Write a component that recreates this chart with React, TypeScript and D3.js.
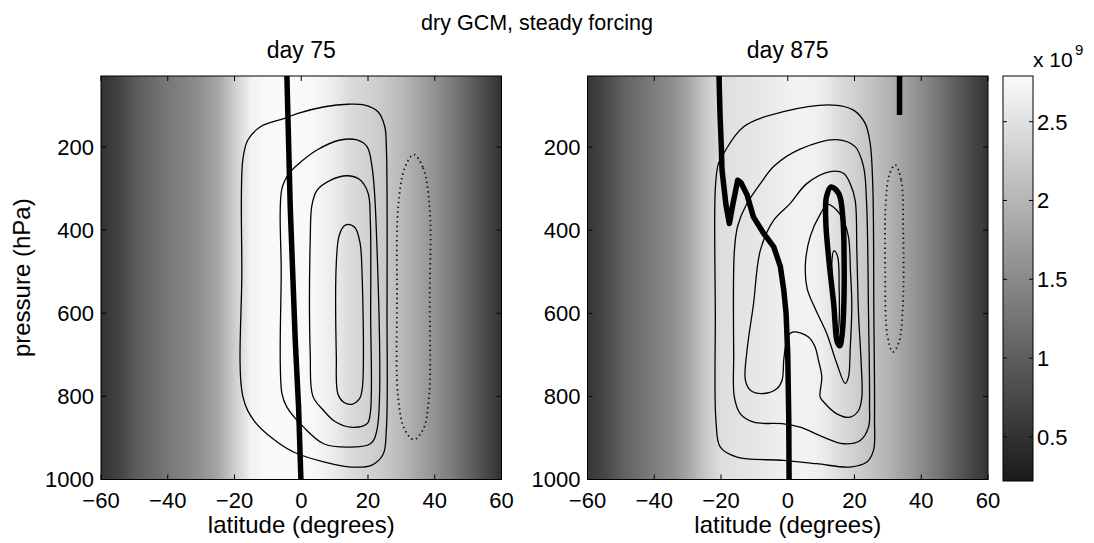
import React from "react";
import * as d3 from "d3";

// ---------- data ----------
const LATS = [-60, -55, -50, -45, -40, -35, -30, -25, -20, -15, -10, -5, 0, 5, 10, 15, 20, 25, 30, 35, 40, 45, 50, 55, 60];
// background field (x 10^9) along latitude
const M_DAY75 = [0.50, 0.67, 0.95, 1.13, 1.30, 1.41, 1.59, 1.82, 2.27, 2.70, 2.85, 2.85, 2.79, 2.73, 2.62, 2.42, 2.33, 2.22, 2.04, 1.82, 1.59, 1.36, 1.07, 0.78, 0.50];
const M_DAY875 = [0.55, 0.73, 1.01, 1.18, 1.36, 1.53, 1.82, 2.19, 2.47, 2.52, 2.56, 2.62, 2.68, 2.71, 2.65, 2.47, 2.31, 2.16, 1.99, 1.76, 1.53, 1.28, 1.01, 0.75, 0.52];

type Pt = [number, number]; // [latitude, pressure]

const D75_CONTOURS: Pt[][] = [
  [[-5, 131], [-1, 119], [7, 103], [14, 97], [19, 99], [23, 115], [25, 150], [25.5, 200], [25.7, 600], [25.5, 880], [24.5, 940], [21, 966], [15, 970], [7, 958], [-2, 935], [-8, 905], [-14, 860], [-17.5, 800], [-17.8, 500], [-17.5, 230], [-16, 183], [-12, 150]],
  [[-5.8, 300], [-3.5, 262], [0, 235], [4.7, 207], [11.7, 183], [16.7, 183], [19.7, 199], [21.2, 247], [22.5, 400], [22.7, 880], [20.7, 914], [13.7, 922], [6.7, 914], [0.7, 874], [-4.3, 826], [-5.8, 793], [-6, 500]],
  [[2.7, 420], [3.2, 340], [4.7, 304], [8.7, 280], [13.7, 269], [17.5, 278], [20, 310], [20.7, 380], [20.8, 600], [20.7, 840], [19.7, 866], [14.7, 874], [10, 860], [6.7, 834], [3.5, 800], [2.7, 700]],
  [[10.5, 480], [11.3, 415], [12.8, 390], [14.2, 386], [16.2, 395], [17.6, 430], [18.2, 500], [18.3, 780], [17.5, 805], [15.2, 819], [12.7, 814], [11, 795], [10.5, 700]],
];
const D75_DOTTED: Pt[] = [[33.7, 218], [36.5, 250], [38.5, 350], [38.5, 560], [38.3, 800], [36.5, 880], [33.7, 904], [31, 880], [29, 800], [28.7, 560], [29, 350], [31, 250]];
const D75_THICK_OPEN: Pt[][] = [
  [[-4.3, 29], [-3.3, 344], [-1.8, 665], [-0.8, 826], [-0.1, 1000]],
];
const D75_THICK_CLOSED: Pt[][] = [];

const D875_CONTOURS: Pt[][] = [
  [[-21.7, 300], [-20.8, 240], [-19.2, 215], [-13.2, 151], [-1.3, 115], [13.7, 99], [19.7, 111], [23.2, 143], [24.7, 191], [25.5, 300], [25.8, 600], [26, 850], [25.7, 930], [23.7, 958], [18.7, 970], [8.7, 962], [-1.2, 954], [-15.2, 946], [-20.2, 922], [-21.5, 860], [-21.7, 600]],
  [[-16.2, 700], [-16, 450], [-15, 390], [-12.5, 340], [-8.2, 288], [-4, 245], [3.7, 205], [14.7, 182], [20.2, 199], [22.7, 247], [23.6, 330], [24.2, 600], [24.5, 820], [24.2, 874], [21.7, 906], [16.7, 914], [10.7, 898], [3.7, 874], [-1.2, 866], [-10.2, 862], [-14.2, 842], [-16, 802]],
  [[-10.3, 580], [-8.2, 448], [-4.2, 376], [0.7, 336], [5.7, 288], [12.7, 259], [16.7, 263], [18.7, 288], [20.2, 328], [20.7, 450], [21.2, 600], [22, 720], [22.2, 802], [21.2, 834], [18.7, 850], [14.7, 842], [10.7, 813], [9.7, 801], [10.2, 753], [9.2, 713], [8.2, 681], [6.2, 657], [1.7, 645], [0, 655], [-0.7, 681], [-1.2, 713], [-1.7, 761], [-3.2, 781], [-7.2, 793], [-11.2, 785], [-12.7, 761], [-12.2, 689]],
  [[9.7, 362], [12, 338], [14.7, 352], [16.7, 376], [18.2, 416], [18.8, 500], [19.2, 580], [18.7, 689], [18.2, 753], [17.2, 769], [14.7, 721], [11.7, 649], [8, 585], [5.8, 540], [5.3, 480], [6.7, 416]],
  [[13.8, 450], [14.9, 462], [15.4, 540], [15.4, 620], [15, 650], [14.5, 620], [13.6, 540], [13.2, 480]],
];
const D875_DOTTED: Pt[] = [[32.2, 243], [34, 280], [34.6, 400], [34.5, 580], [33.3, 670], [31.5, 693], [29.8, 650], [29.2, 500], [29.4, 330], [30.5, 265]];
const D875_THICK_OPEN: Pt[][] = [
  [[-20.6, 29], [-20.3, 120], [-19.9, 200], [-19.7, 255], [-18.5, 340], [-17.5, 384], [-16.5, 340], [-15, 280], [-14, 286], [-12.2, 315], [-10.3, 368], [-7.2, 408], [-4.2, 440], [-2.2, 488], [-1.2, 544], [-0.5, 600], [0, 700], [0.3, 850], [0.4, 1000]],
  [[33.5, 29], [33.5, 123]],
];
const D875_THICK_CLOSED: Pt[][] = [
  [[13, 296], [15.3, 312], [16.5, 370], [16.9, 480], [16.8, 580], [16.3, 650], [15.6, 678], [14.8, 668], [13.8, 580], [12.3, 470], [11.4, 380], [11.6, 320]],
];

const X_TICKS = [-60, -40, -20, 0, 20, 40, 60];
const Y_TICKS = [200, 400, 600, 800, 1000];
const CB_TICKS = [0.5, 1, 1.5, 2, 2.5];
const CB_DOMAIN = [0.22, 2.79];
const P_DOMAIN = [29, 1000];

const TITLE = "dry GCM, steady forcing";
const PANEL_TITLES = ["day 75", "day 875"];
const X_LABEL = "latitude (degrees)";
const Y_LABEL = "pressure (hPa)";

// ---------- layout ----------
const W = 1094;
const H = 543;
const TOP = 76;
const BOTTOM = 479.5;
const PW = 400.5;
const PANEL_X = [101, 587.5];
const CB = { x: 1003, w: 30, top: 76, bottom: 481 };
const FONT = "'Liberation Sans', Arial, Helvetica, sans-serif";

const color = d3.scaleLinear<string>().domain(CB_DOMAIN).range(["#1a1a1a", "#fafafa"]).clamp(true);

const fmt = (v: number) => (v < 0 ? "\u2212" + Math.abs(v) : String(v));

interface PanelProps {
  idx: number;
  bg: number[];
  contours: Pt[][];
  dotted: Pt[];
  thickOpen: Pt[][];
  thickClosed: Pt[][];
  showYLabel: boolean;
}

function Panel({ idx, bg, contours, dotted, thickOpen, thickClosed, showYLabel }: PanelProps) {
  const x0 = PANEL_X[idx];
  const x = d3.scaleLinear().domain([-60, 60]).range([x0, x0 + PW]);
  const y = d3.scaleLinear().domain(P_DOMAIN).range([TOP, BOTTOM]);
  const closed = d3.line<Pt>().x((d) => x(d[0])).y((d) => y(d[1])).curve(d3.curveCatmullRomClosed.alpha(0.5));
  const open = d3.line<Pt>().x((d) => x(d[0])).y((d) => y(d[1])).curve(d3.curveLinear);
  const gid = `bg${idx}`;
  const cid = `clip${idx}`;
  const tick = 5;
  return (
    <g>
      <defs>
        <linearGradient id={gid} x1="0" x2="1" y1="0" y2="0">
          {LATS.map((lat, i) => (
            <stop key={i} offset={(x(lat) - x0) / PW} stopColor={color(bg[i])} />
          ))}
        </linearGradient>
        <clipPath id={cid}>
          <rect x={x0} y={TOP} width={PW} height={BOTTOM - TOP} />
        </clipPath>
      </defs>
      <rect x={x0} y={TOP} width={PW} height={BOTTOM - TOP} fill={`url(#${gid})`} />
      <g clipPath={`url(#${cid})`} fill="none" stroke="#000">
        {contours.map((c, i) => (
          <path key={i} d={closed(c) || ""} strokeWidth={1.3} />
        ))}
        <path d={closed(dotted) || ""} strokeWidth={1.8} strokeDasharray="1.4 3.4" stroke="#111" />
        {thickClosed.map((c, i) => (
          <path key={"tc" + i} d={closed(c) || ""} strokeWidth={5.5} />
        ))}
        {thickOpen.map((c, i) => (
          <path key={"to" + i} d={open(c) || ""} strokeWidth={5.5} strokeLinejoin="round" />
        ))}
      </g>
      <rect x={x0} y={TOP} width={PW} height={BOTTOM - TOP} fill="none" stroke="#000" strokeWidth={1} />
      {X_TICKS.map((t) => (
        <g key={"xt" + t}>
          <line x1={x(t)} x2={x(t)} y1={BOTTOM} y2={BOTTOM - tick} stroke="#000" />
          <line x1={x(t)} x2={x(t)} y1={TOP} y2={TOP + tick} stroke="#000" />
          <text x={x(t)} y={508} textAnchor="middle" fontSize={22} fontFamily={FONT}>
            {fmt(t)}
          </text>
        </g>
      ))}
      {Y_TICKS.map((t) => (
        <g key={"yt" + t}>
          <line x1={x0} x2={x0 + tick} y1={y(t)} y2={y(t)} stroke="#000" />
          <line x1={x0 + PW} x2={x0 + PW - tick} y1={y(t)} y2={y(t)} stroke="#000" />
          <text x={x0 - 7} y={y(t)} dy="0.36em" textAnchor="end" fontSize={22} fontFamily={FONT}>
            {t}
          </text>
        </g>
      ))}
      <text x={x0 + PW / 2} y={58} textAnchor="middle" fontSize={23} fontFamily={FONT}>
        {PANEL_TITLES[idx]}
      </text>
      <text x={x0 + PW / 2} y={533} textAnchor="middle" fontSize={24} fontFamily={FONT}>
        {X_LABEL}
      </text>
      {showYLabel && (
        <text transform={`translate(30,${(TOP + BOTTOM) / 2}) rotate(-90)`} textAnchor="middle" fontSize={24} fontFamily={FONT}>
          {Y_LABEL}
        </text>
      )}
    </g>
  );
}

function Colorbar() {
  const y = d3.scaleLinear().domain(CB_DOMAIN).range([CB.bottom, CB.top]);
  const stops = d3.range(0, 11).map((i) => CB_DOMAIN[0] + ((CB_DOMAIN[1] - CB_DOMAIN[0]) * i) / 10);
  return (
    <g>
      <defs>
        <linearGradient id="cbgrad" x1="0" x2="0" y1="1" y2="0">
          {stops.map((v, i) => (
            <stop key={i} offset={(CB.bottom - y(v)) / (CB.bottom - CB.top)} stopColor={color(v)} />
          ))}
        </linearGradient>
      </defs>
      <rect x={CB.x} y={CB.top} width={CB.w} height={CB.bottom - CB.top} fill="url(#cbgrad)" stroke="#000" strokeWidth={1} />
      {CB_TICKS.map((t) => (
        <g key={t}>
          <line x1={CB.x} x2={CB.x + 4} y1={y(t)} y2={y(t)} stroke="#000" />
          <line x1={CB.x + CB.w} x2={CB.x + CB.w - 4} y1={y(t)} y2={y(t)} stroke="#000" />
          <text x={CB.x + CB.w + 4} y={y(t)} dy="0.36em" fontSize={22} fontFamily={FONT}>
            {t}
          </text>
        </g>
      ))}
      <text x={1033} y={67} fontSize={21} fontFamily={FONT}>
        x 10
      </text>
      <text x={1075} y={55} fontSize={15} fontFamily={FONT}>
        9
      </text>
    </g>
  );
}

export default function App() {
  return (
    <svg width={W} height={H} style={{ position: "absolute", left: 0, top: 0, background: "#fff" }}>
      <rect x={0} y={0} width={W} height={H} fill="#fff" />
      <text x={537} y={30} textAnchor="middle" fontSize={21.5} fontFamily={FONT}>
        {TITLE}
      </text>
      <Panel idx={0} bg={M_DAY75} contours={D75_CONTOURS} dotted={D75_DOTTED} thickOpen={D75_THICK_OPEN} thickClosed={D75_THICK_CLOSED} showYLabel={true} />
      <Panel idx={1} bg={M_DAY875} contours={D875_CONTOURS} dotted={D875_DOTTED} thickOpen={D875_THICK_OPEN} thickClosed={D875_THICK_CLOSED} showYLabel={false} />
      <Colorbar />
    </svg>
  );
}
